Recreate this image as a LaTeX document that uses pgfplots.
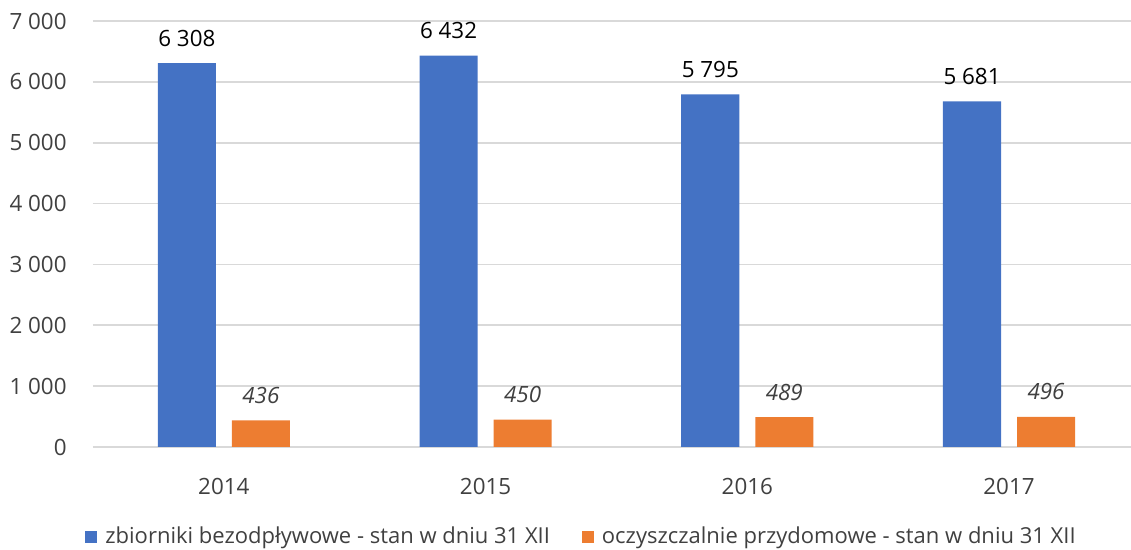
\documentclass[border=0pt]{standalone}
\usepackage{pgfplots}
\pgfplotsset{compat=1.18}
\usepackage{fontspec}
\setmainfont{Open Sans}
\definecolor{cblue}{HTML}{4472C4}
\definecolor{corange}{HTML}{ED7D31}
\definecolor{ctext}{HTML}{404040}
\definecolor{cgrid}{HTML}{D9D9D9}
\newcommand{\fs}{\fontsize{11.2pt}{13pt}\selectfont}
\newcommand{\fl}{\fontsize{11pt}{13pt}\selectfont}
\begin{document}
\fs
\begin{tikzpicture}
\begin{axis}[
  at={(46.5pt,51.5pt)}, anchor=south west,
  scale only axis, width=519pt, height=213pt,
  xmin=-0.5, xmax=3.466, ymin=0, ymax=7000,
  axis line style={draw=none},
  ymajorgrids, grid style={cgrid, line width=0.9pt},
  ytick={0,1000,...,7000},
  xtick={0,1,2,3}, xticklabels={2014,2015,2016,2017},
  major tick length=0pt,
  /pgf/number format/.cd, assume math mode=true, 1000 sep={\ },
  /pgfplots/.cd,
  ticklabel style={font=\fs, text=ctext},
  yticklabel style={anchor=east, inner sep=0pt, xshift=-13pt},
  xticklabel style={anchor=center, inner sep=0pt, yshift=-19.5pt},
  bar width=0.222,
  clip=false,
  legend columns=2,
  legend style={at={(-0.0077,-0.211)}, anchor=west, draw=none, fill=none,
    inner sep=0pt, font=\fl, text=ctext,
    /tikz/every even column/.append style={column sep=14pt}},
  legend cell align=left,
]
\addplot[ybar, bar shift=-0.1415, fill=cblue, draw=none,
  nodes near coords, every node near coord/.append style={anchor=center, xshift=-18.5pt, yshift=12.5pt, text=black, font=\fs},
  legend image code/.code={\fill[cblue] (0pt,-3pt) rectangle (6pt,3pt);}]
  coordinates {(0,6308) (1,6432) (2,5795) (3,5681)};
\addlegendentry{\hspace{2pt}zbiorniki bezodpływowe - stan w dniu 31 XII}
\addplot[ybar, bar shift=0.1415, fill=corange, draw=none,
  nodes near coords, every node near coord/.append style={anchor=center, xshift=18.5pt, yshift=12.5pt, text=ctext, font=\fs\itshape},
  legend image code/.code={\fill[corange] (0pt,-3pt) rectangle (6pt,3pt);}]
  coordinates {(0,436) (1,450) (2,489) (3,496)};
\addlegendentry{\hspace{2pt}oczyszczalnie przydomowe - stan w dniu 31 XII}
\end{axis}
\pgfresetboundingbox
\path (0,0) rectangle (565.5pt,275pt);
\end{tikzpicture}
\end{document}
